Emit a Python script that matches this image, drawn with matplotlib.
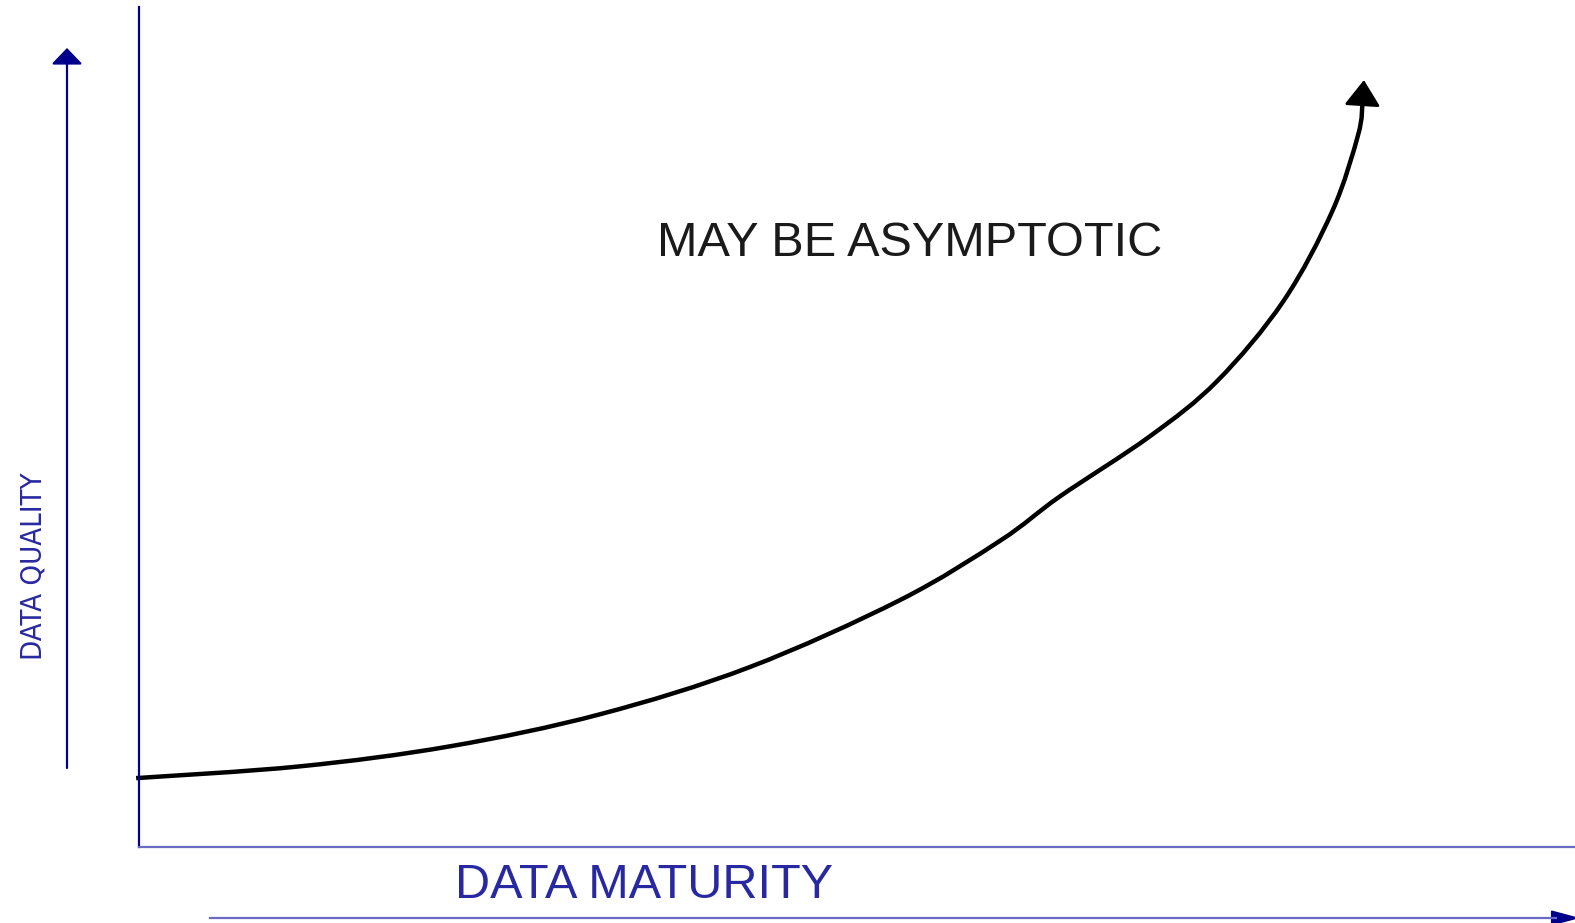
import matplotlib.pyplot as plt
from matplotlib.path import Path
from matplotlib.patches import PathPatch
from matplotlib.lines import Line2D
import numpy as np

# curve (x = data maturity, y = data quality, 0..100)
maturity = [-0.2, 11.2, 21.7, 32.1, 42.5, 53.0, 60.0, 64.1, 70.4, 75.1, 79.7, 83.1, 84.9, 85.2]
quality = [8.2, 9.6, 12.0, 15.8, 21.4, 29.4, 36.5, 41.7, 48.9, 55.5, 65.0, 75.7, 84.8, 88.6]
tip = (85.3, 91.3) # where the arrow head points

x_label = 'DATA MATURITY'
y_label = 'DATA QUALITY'
note = 'MAY BE ASYMPTOTIC'

navy = '#00008B'
light_navy = '#6a6ac6'
label_blue = '#2828a0'

W, H = 1575, 923
fig = plt.figure(figsize=(W / 100, H / 100), dpi=100)
ax = fig.add_axes([139 / W, 76 / H, 1436 / W, 840 / H])
ax.set_xlim(0, 100)
ax.set_ylim(0, 100)
ax.set_facecolor('none')
ax.spines['top'].set_visible(False)
ax.spines['right'].set_visible(False)
ax.spines['left'].set_color(navy)
ax.spines['left'].set_linewidth(1.6)
ax.spines['bottom'].set_color(light_navy)
ax.spines['bottom'].set_linewidth(1.6)
ax.set_xticks([])
ax.set_yticks([])

# smooth curve through the read points (catmull-rom turned into cubic beziers)
pts = np.column_stack([maturity, quality])
ext = np.vstack([pts[0], pts, pts[-1]])
verts = [pts[0]]
codes = [Path.MOVETO]
for i in range(1, len(ext) - 2):
    p0, p1, p2, p3 = ext[i - 1], ext[i], ext[i + 1], ext[i + 2]
    verts += [p1 + (p2 - p0) / 6, p2 - (p3 - p1) / 6, p2]
    codes += [Path.CURVE4] * 3
curve = PathPatch(Path(verts, codes), facecolor='none', edgecolor='black', lw=3.2,
                  capstyle='butt', clip_on=False)
ax.add_patch(curve)
ax.annotate('', xy=tip, xytext=(maturity[-1], quality[-1]),
            arrowprops=dict(arrowstyle='-|>,head_length=0.8,head_width=0.56',
                            mutation_scale=20, color='black', lw=2,
                            shrinkA=0, shrinkB=0))

ax.text(910 / W, 1 - 243 / H, note, transform=fig.transFigure, ha='center', va='center',
        fontsize=35, family=['Liberation Sans', 'DejaVu Sans'], color='#1a1a1a')

# outer arrows and their labels
ax.annotate('', xy=(67 / W, 1 - 48 / H), xytext=(67 / W, 1 - 768 / H),
            xycoords='figure fraction', textcoords='figure fraction',
            arrowprops=dict(arrowstyle='-|>,head_length=0.5,head_width=0.48',
                            mutation_scale=20, color=navy, lw=1.6,
                            shrinkA=0, shrinkB=0))
fig.add_artist(Line2D([210 / W, 1556 / W], [1 - 918 / H, 1 - 918 / H],
                      color=light_navy, lw=1.6))
ax.annotate('', xy=(1580 / W, 1 - 918 / H), xytext=(1552 / W, 1 - 918 / H),
            xycoords='figure fraction', textcoords='figure fraction',
            arrowprops=dict(arrowstyle='-|>,head_length=0.9,head_width=0.24',
                            mutation_scale=20, color=navy, lw=1.2,
                            shrinkA=0, shrinkB=0))

fig.text(644 / W, 1 - 885 / H, x_label, ha='center', va='center', fontsize=35,
         family=['Liberation Sans', 'DejaVu Sans'], color=label_blue)
fig.text(34 / W, 1 - 566 / H, y_label, ha='center', va='center', rotation=90,
         fontsize=21, family=['DejaVu Sans'], fontstretch='condensed', color=label_blue)

plt.savefig('out.png', dpi=100)
